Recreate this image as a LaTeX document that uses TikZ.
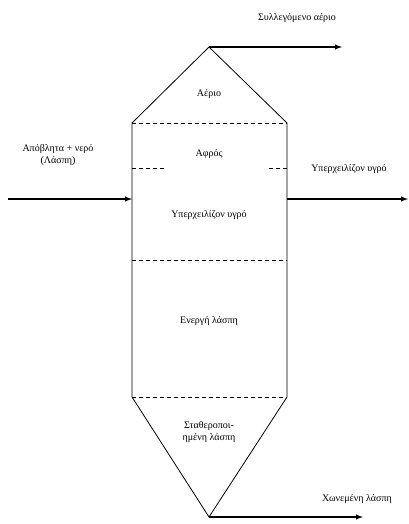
\documentclass[tikz,border=0pt]{standalone}
\usepackage{fontspec}
\setmainfont{Liberation Serif}
\usetikzlibrary{arrows, positioning}

\begin{document}
\begin{tikzpicture}[x=1pt, y=-1pt, line width=0.8pt,
  font=\fontsize{10}{11.5}\selectfont,
  flow/.style={-latex, line width=1.4pt},
  sep/.style={dash pattern=on 4pt off 3pt},
  lbl/.style={inner sep=1pt, align=center}]
\useasboundingbox (0,0) rectangle (409,524);
% reactor outline
\coordinate (top) at (209,47);
\coordinate (tl) at (132,123);
\coordinate (tr) at (287,123);
\coordinate (bl) at (132,397);
\coordinate (br) at (287,397);
\coordinate (bot) at (209,517);
\draw (tl) -- (top) -- (tr) -- (br) -- (bot) -- (bl) -- cycle;
%
\coordinate (fl) at (132,168);
\coordinate (fr) at (287,168);
\coordinate (ml) at (132,260);
\coordinate (mr) at (287,260);
\draw[sep] (tl) -- (tr);
\draw[sep] (ml) -- (mr);
\draw[sep] (bl) -- (br);
\draw[sep] (fl) -- ++(34,0);
\draw[sep] (fr) -- ++(-19,0);
% flows
\coordinate (inA) at (8,199);
\coordinate (inB) at (132,199);
\coordinate (outA) at (287,199);
\coordinate (outB) at (408,199);
\coordinate (gas) at (342,47);
\coordinate (sludge) at (363,517);
\draw[flow] (inA) -- (inB);
\draw[flow] (outA) -- (outB);
\draw[flow] (top) -- (gas);
\draw[flow] (bot) -- (sludge);
% labels
\node[lbl] (gaslbl) at (297,18) {Συλλεγόμενο αέριο};
\node[lbl] (aerio) at (209,94) {Αέριο};
\node[lbl] (feed) at (58,155) {Απόβλητα + νερό\\(Λάσπη)};
\node[lbl] (foam) at (209,154) {Αφρός};
\node[lbl] (over) at (349,169) {Υπερχειλίζον υγρό};
\node[lbl] (liquid) at (209,215) {Υπερχειλίζον υγρό};
\node[lbl] (active) at (209,321) {Ενεργή λάσπη};
\node[lbl] (stable) at (209,432) {Σταθεροποι-\\ημένη λάσπη};
\node[lbl] (digest) at (357,499) {Χωνεμένη λάσπη};
\end{tikzpicture}
\end{document}
